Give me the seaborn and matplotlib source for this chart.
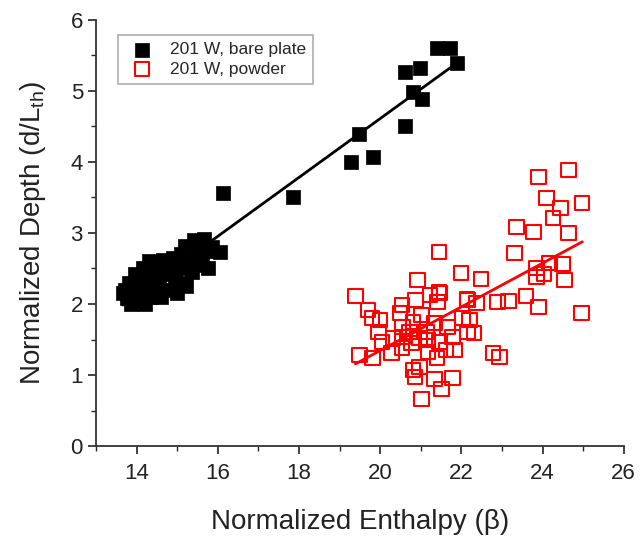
import matplotlib
matplotlib.use("Agg")
import matplotlib.pyplot as plt
import seaborn as sns
import pandas as pd
from matplotlib.ticker import MultipleLocator

sns.set_style("ticks")
plt.rcParams['font.family'] = ['Liberation Sans', 'DejaVu Sans']

bare_x = [13.66, 13.70, 13.75, 13.82, 13.85, 13.90, 13.95, 14.00, 14.05, 14.08,
          14.12, 14.15, 14.20, 14.25, 14.30, 14.35, 14.40, 14.45, 14.50, 14.55,
          14.60, 14.65, 14.70, 14.78, 14.85, 14.90, 14.95, 15.00, 15.05, 15.10,
          15.15, 15.20, 15.22, 15.28, 15.35, 15.40, 15.45, 15.50, 15.55, 15.60,
          15.65, 15.70, 15.75, 15.85, 16.04,
          16.12, 17.84, 19.29, 19.47, 19.81, 20.62, 20.60, 20.80, 20.97, 21.02,
          21.39, 21.73, 21.90]
bare_y = [2.15, 2.20, 2.08, 2.30, 2.00, 2.12, 2.42, 2.25, 2.05, 2.35,
          2.15, 2.50, 2.00, 2.28, 2.60, 2.10, 2.40, 2.20, 2.55, 2.30,
          2.10, 2.62, 2.42, 2.20, 2.55, 2.65, 2.35, 2.15, 2.50, 2.70,
          2.30, 2.82, 2.25, 2.60, 2.45, 2.90, 2.70, 2.55, 2.80, 2.62,
          2.92, 2.75, 2.50, 2.80, 2.73,
          3.56, 3.51, 4.00, 4.39, 4.07, 4.51, 5.27, 4.99, 5.32, 4.89,
          5.61, 5.61, 5.39]

powder_x = [24.64, 23.90, 24.10, 24.44, 24.98, 24.25, 24.64, 23.36, 23.78, 21.44,
            23.31, 24.17, 24.49, 23.85, 24.03, 23.85, 24.54, 22.00, 22.49, 20.92,
            19.39, 21.44, 21.22, 21.41, 20.87, 20.53, 22.13, 22.37, 22.89, 23.16,
            23.60, 23.90, 24.96, 19.69, 19.79, 19.99, 19.96, 20.04, 20.31, 20.55,
            20.55, 20.80, 20.80, 21.02, 21.14, 21.17, 21.34, 21.66, 21.46, 21.78,
            22.03, 22.20, 22.32, 22.15, 19.49, 19.81, 20.28, 20.53, 20.77, 20.97,
            21.17, 21.39, 21.63, 21.83, 22.77, 22.94, 20.80, 20.85, 20.97, 21.34,
            21.78, 21.51, 21.02, 20.72, 20.48, 21.46, 22.15]
powder_y = [3.89, 3.79, 3.49, 3.35, 3.42, 3.21, 3.00, 3.08, 3.01, 2.73,
            2.72, 2.58, 2.56, 2.51, 2.42, 2.38, 2.34, 2.44, 2.35, 2.34,
            2.11, 2.17, 2.13, 2.03, 2.06, 1.99, 2.07, 2.01, 2.03, 2.04,
            2.11, 1.96, 1.87, 1.92, 1.80, 1.77, 1.61, 1.46, 1.52, 1.54,
            1.68, 1.75, 1.61, 1.85, 1.61, 1.49, 1.73, 1.68, 1.46, 1.54,
            1.80, 1.77, 1.59, 1.61, 1.28, 1.24, 1.31, 1.38, 1.45, 1.52,
            1.32, 1.24, 1.35, 1.35, 1.31, 1.25, 1.07, 0.97, 1.11, 0.94,
            0.96, 0.80, 0.66, 1.61, 1.87, 2.15, 2.06]

labels = ["201 W, bare plate", "201 W, powder"]

bare = pd.DataFrame({"x": bare_x, "y": bare_y})
powder = pd.DataFrame({"x": powder_x, "y": powder_y})

fig = plt.figure(figsize=(6.41, 5.39), dpi=100)
ax = fig.add_axes([0.150, 0.1725, 0.823, 0.7905])

sns.regplot(data=bare, x="x", y="y", scatter=False, ci=None, truncate=True,
            color="black", line_kws={"linewidth": 2}, ax=ax)
sns.regplot(data=powder, x="x", y="y", scatter=False, ci=None, truncate=True,
            color="#ff0000", line_kws={"linewidth": 2}, ax=ax)
sns.scatterplot(data=bare, x="x", y="y", marker="s", s=105, color="black",
                edgecolor="black", linewidth=0.5, ax=ax, label=labels[0], zorder=3)
sns.scatterplot(data=powder, x="x", y="y", marker="s", s=105, facecolor="none",
                edgecolor="#ff0000", linewidth=1.5, ax=ax, label=labels[1], zorder=3)

ax.set_xlim(13, 26)
ax.set_ylim(0, 6)
ax.xaxis.set_major_locator(MultipleLocator(2))
ax.xaxis.set_minor_locator(MultipleLocator(1))
ax.yaxis.set_major_locator(MultipleLocator(1))
ax.yaxis.set_minor_locator(MultipleLocator(0.5))
ax.tick_params(which="major", direction="out", length=6, width=1.2, labelsize=16, colors="#222222")
ax.tick_params(axis="x", which="major", pad=6)
ax.tick_params(which="minor", direction="out", length=3.5, width=1.0)
for s in ["top", "right"]:
    ax.spines[s].set_visible(False)
for s in ["left", "bottom"]:
    ax.spines[s].set_linewidth(1.3)
    ax.spines[s].set_color("#333333")

ax.set_xlabel("Normalized Enthalpy (β)", fontsize=20, labelpad=18, color="#222222")
ax.set_ylabel("Normalized Depth (d/L$_{\\mathregular{th}}$)", fontsize=20, labelpad=16, color="#222222")

leg = ax.legend(loc="upper left", bbox_to_anchor=(0.025, 0.985), fontsize=12.5,
                frameon=True, fancybox=False, edgecolor="#999999", borderpad=0.4,
                handletextpad=0.6, labelspacing=0.25, markerscale=1.0)
leg.get_frame().set_linewidth(1.2)

fig.savefig("out.png", dpi=100)
